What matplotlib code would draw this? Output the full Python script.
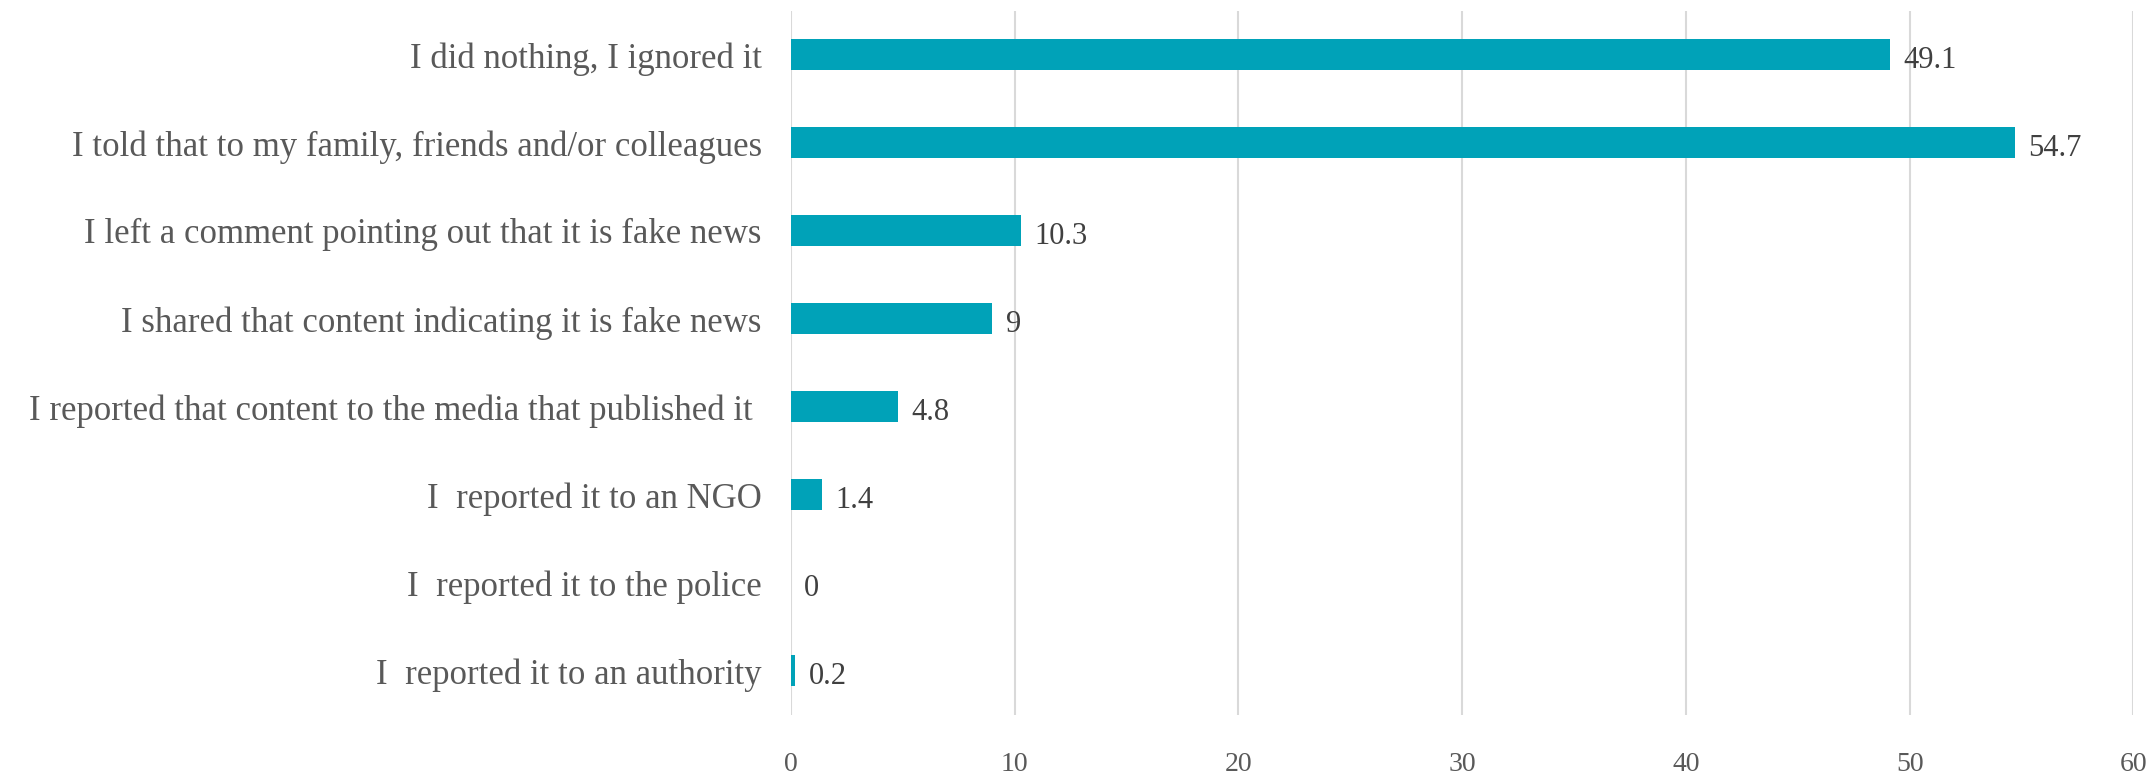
import matplotlib.pyplot as plt

categories = [
    'I did nothing, I ignored it',
    'I told that to my family, friends and/or colleagues',
    'I left a comment pointing out that it is fake news',
    'I shared that content indicating it is fake news',
    'I reported that content to the media that published it ',
    'I  reported it to an NGO',
    'I  reported it to the police',
    'I  reported it to an authority',
]
values = [49.1, 54.7, 10.3, 9, 4.8, 1.4, 0, 0.2]
value_labels = ['49.1', '54.7', '10.3', '9', '4.8', '1.4', '0', '0.2']
xticks = [0, 10, 20, 30, 40, 50, 60]

BAR = '#00A2B8'
TXT = '#595959'

plt.rcParams['font.family'] = ['Liberation Serif', 'DejaVu Serif']

fig = plt.figure(figsize=(21.55, 7.77), dpi=100)
ax = fig.add_axes([0.367, 0.080, 0.623, 0.906])

pos = list(range(len(categories)))
ax.barh(pos, values, height=0.35, color=BAR, zorder=3)
for p, v, lab in zip(pos, values, value_labels):
    ax.text(v + 0.6, p + 0.06, lab, va='center', ha='left',
            fontsize=22, color='#404040', zorder=4)

ax.set_ylim(len(categories) - 0.5, -0.5)
ax.set_xlim(0, 60)
ax.set_yticks(pos)
ax.set_yticklabels(categories, fontsize=25, color=TXT)
ax.set_xticks(xticks)
ax.set_xticklabels([str(t) for t in xticks], fontsize=20, color=TXT)
ax.tick_params(axis='y', length=0, pad=21)
ax.tick_params(axis='x', length=0, pad=27)

ax.grid(axis='x', color='#d9d9d9', linewidth=1.5, zorder=0)
for s in ax.spines.values():
    s.set_visible(False)

plt.savefig('out.png', dpi=100)
